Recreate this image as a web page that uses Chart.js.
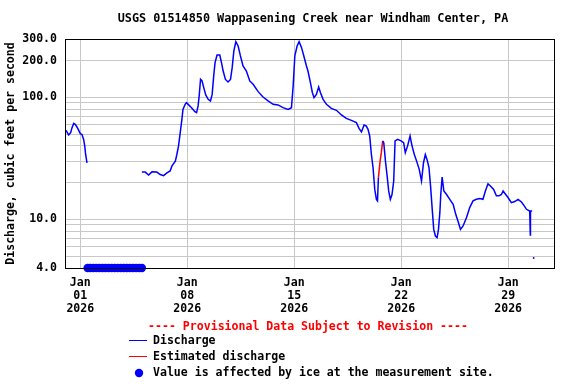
<!DOCTYPE html>
<html lang="en">
<head>
<meta charset="utf-8">
<title>USGS 01514850 Wappasening Creek</title>
<script src="https://cdn.jsdelivr.net/npm/chart.js@4.4.1/dist/chart.umd.min.js"></script>
<style>
  html, body { margin: 0; padding: 0; background: #ffffff; }
  canvas { display: block; }
</style>
</head>
<body>
<canvas id="grafico" width="576" height="384"></canvas>
<script>
// --- Dados (dia de janeiro: 1.0 = 01/jan 00:00) ---
const vazaoDias = [
  0.07, 0.24, 0.37, 0.46, 0.57, 0.67, 0.78, 0.90, 1.00, 1.11, 1.22, 1.29, 1.35, 1.44,
  3.00,
  5.03, 5.25, 5.47, 5.69, 6.01, 6.23, 6.45, 6.67, 6.88, 7.00, 7.22, 7.32, 7.43, 7.54,
  7.65, 7.72, 7.86, 7.95, 8.06, 8.28, 8.50, 8.61, 8.71, 8.78, 8.87, 8.97, 9.08, 9.21,
  9.37, 9.52, 9.63, 9.74, 9.82, 9.95, 10.13, 10.24, 10.35, 10.50, 10.67, 10.83, 10.94,
  11.05, 11.18, 11.33, 11.48, 11.65, 11.87, 12.09, 12.31, 12.64, 12.96, 13.29, 13.62,
  13.94, 14.27, 14.60, 14.82, 14.93, 15.04, 15.19, 15.32, 15.48, 15.62, 15.80, 15.90,
  16.06, 16.19, 16.30, 16.45, 16.60, 16.72, 16.89, 17.11, 17.43, 17.76, 18.09, 18.41,
  18.74, 19.07, 19.24, 19.40, 19.57, 19.72, 19.83, 19.94, 20.05, 20.16, 20.27, 20.38,
  20.45, 20.51,
  20.65,
  20.79, 20.86, 20.97, 21.08, 21.18, 21.29, 21.40, 21.51, 21.60, 21.77, 21.99, 22.16,
  22.27, 22.42, 22.58, 22.71, 22.86, 23.01, 23.18, 23.33, 23.46, 23.58, 23.69, 23.82,
  23.93, 24.04, 24.13, 24.24, 24.35, 24.44, 24.53, 24.59, 24.68, 24.79, 24.97, 25.18,
  25.40, 25.57, 25.75, 25.88, 26.05, 26.27, 26.48, 26.70, 26.92, 27.14, 27.35, 27.51,
  27.68, 27.84, 28.05, 28.23, 28.40, 28.56, 28.67, 28.84, 28.99, 29.21, 29.43, 29.65,
  29.87, 30.02, 30.20, 30.41, 30.45, 30.46, 30.57,
  30.62,
  30.67
];
const vazaoValores = [
  53.6, 49.1, 51.3, 56.4, 61.1, 60, 57.1, 53.6, 50.4, 49.6, 45.2, 40, 34, 29.0,
  null,
  24.4, 24.4, 23.1, 24.5, 24.4, 23.3, 22.8, 24.0, 24.9, 27.4, 30, 34, 40, 51.3,
  65.9, 79.6, 87.5, 90.3, 87.5, 82.2, 76.2, 74.8, 84.9, 102.6, 140.3, 136, 120, 104.5,
  96.2, 93.3, 105.6, 154, 192, 222, 222, 192, 164, 140, 133.4, 140, 174.7,
  239.5, 285, 263, 218, 180.5, 164, 136, 127.6, 111.2, 100.5, 93.3, 87.5,
  86.5, 82.2, 79.6, 82.2, 123.7, 218, 263, 285, 255, 220, 180.5, 164,
  131.8, 109, 99.3, 105.6, 121.4, 109, 96.2, 87.5, 81.1, 78.2, 71.6, 67.2,
  64.7, 62, 55.6, 52, 59.3, 58, 54.6, 48.2, 34, 26.5, 17.6, 14.6,
  14.2, 22,
  null,
  43.9, 42.5, 30, 22.7, 17.1, 14.6, 16, 20.6, 43.9, 45.2, 43.9, 42.5,
  35.2, 40, 48.2, 40, 34, 30, 25.7, 20.6, 29.1, 34, 31, 26.5,
  18.2, 11.7, 8.28, 7.31, 7.1, 8.28, 11.35, 16, 22.2, 17.1, 16, 14.6,
  13.3, 11, 9.4, 8.28, 8.83, 10.33, 12.47, 14.2, 14.6, 14.8, 14.6, 17.1,
  19.6, 18.8, 17.6, 15.6, 15.6, 16, 17.1, 16, 15.1, 13.7, 14, 14.6,
  13.9, 13.1, 12.1, 11.7, 7.45, 11.7, 11.7,
  null,
  4.83
];

// Trecho de vazão estimada (linha vermelha)
const estimadaDias = [20.51, 20.62, 20.70, 20.79];
const estimadaValores = [22, 30, 35.2, 43.9];

// Valores afetados por gelo (desenhados no limite inferior do eixo)
const geloDias = [1.48, 1.65, 1.85, 2.05, 2.25, 2.45, 2.65, 2.85, 3.05, 3.25,
  3.45, 3.65, 3.85, 4.05, 4.25, 4.45, 4.65, 4.85, 5.03];
const geloValores = [4, 4, 4, 4, 4, 4, 4, 4, 4, 4, 4, 4, 4, 4, 4, 4, 4, 4, 4];

// Marcas dos eixos
const xTickDias = [1, 8, 15, 22, 29];
const xTickRotulos = [['Jan', '01', '2026'], ['Jan', '08', '2026'], ['Jan', '15', '2026'],
  ['Jan', '22', '2026'], ['Jan', '29', '2026']];
const yTickValores = [4, 5, 6, 7, 8, 9, 10, 20, 30, 40, 50, 60, 70, 80, 90, 100, 200, 300];
const yRotulos = [4, 10, 100, 200, 300];

const TITULO = 'USGS 01514850 Wappasening Creek near Windham Center, PA';
const AVISO = '---- Provisional Data Subject to Revision ----';
const FONTE = "'DejaVu Sans Mono', 'Liberation Mono', monospace";
const AZUL = '#0000ff';
const VERMELHO = '#ff0000';
const GRADE = '#c8c8c8';

// Monta pares {x, y} para o Chart.js
function pares(dias, valores) {
    return dias.map((d, i) => ({ x: d, y: valores[i] }));
}

// Ponto sem vizinhos (precisa de um marcador para aparecer)
function pontoIsolado(i) {
    return vazaoValores[i] != null && vazaoValores[i - 1] == null && vazaoValores[i + 1] == null;
}

// Moldura preta do gráfico, desenhada por cima dos dados
const moldura = {
    id: 'moldura',
    afterDatasetsDraw(chart) {
        const { ctx, chartArea: a } = chart;
        ctx.save();
        ctx.strokeStyle = '#000000';
        ctx.lineWidth = 1;
        ctx.strokeRect(Math.round(a.left) + 0.5, Math.round(a.top) + 0.5,
            Math.round(a.right) - Math.round(a.left), Math.round(a.bottom) - Math.round(a.top));
        ctx.restore();
    }
};

// Título e legenda no estilo do USGS
const textosUsgs = {
    id: 'textosUsgs',
    afterDraw(chart) {
        const ctx = chart.ctx;
        ctx.save();
        ctx.textBaseline = 'middle';

        // Título (centrado um pouco à direita, como no original)
        ctx.font = `bold 11.8px ${FONTE}`;
        ctx.textAlign = 'center';
        ctx.fillStyle = '#000000';
        ctx.fillText(TITULO, 313, 19);

        ctx.font = `bold 11.55px ${FONTE}`;
        ctx.fillStyle = VERMELHO;
        ctx.fillText(AVISO, 308, 327);

        ctx.textAlign = 'left';
        ctx.fillStyle = '#000000';
        ctx.fillText('Discharge', 153, 341);
        ctx.fillText('Estimated discharge', 153, 357);
        ctx.fillText('Value is affected by ice at the measurement site.', 153, 373);

        ctx.lineWidth = 1;
        ctx.strokeStyle = AZUL;
        ctx.beginPath(); ctx.moveTo(129, 340.5); ctx.lineTo(147, 340.5); ctx.stroke();
        ctx.strokeStyle = VERMELHO;
        ctx.beginPath(); ctx.moveTo(129, 356.5); ctx.lineTo(147, 356.5); ctx.stroke();

        ctx.fillStyle = AZUL;
        ctx.beginPath(); ctx.arc(139, 373, 4.2, 0, Math.PI * 2); ctx.fill();
        ctx.restore();
    }
};

const ctx = document.getElementById('grafico').getContext('2d');

new Chart(ctx, {
    type: 'scatter',
    data: {
        datasets: [
            {
                label: 'Discharge',
                data: pares(vazaoDias, vazaoValores),
                showLine: true,
                spanGaps: false,
                borderColor: AZUL,
                backgroundColor: AZUL,
                borderWidth: 1.5,
                pointRadius: c => pontoIsolado(c.dataIndex) ? 0.9 : 0,
                pointBorderWidth: 0,
                tension: 0
            },
            {
                label: 'Estimated discharge',
                data: pares(estimadaDias, estimadaValores),
                showLine: true,
                borderColor: VERMELHO,
                backgroundColor: VERMELHO,
                borderWidth: 1.5,
                pointRadius: 0,
                tension: 0
            },
            {
                label: 'Ice affected',
                data: pares(geloDias, geloValores),
                showLine: false,
                backgroundColor: AZUL,
                borderColor: AZUL,
                borderWidth: 0,
                pointRadius: 4.2,
                clip: 8
            }
        ]
    },
    options: {
        responsive: false,
        animation: false,
        devicePixelRatio: 1,
        layout: { padding: { left: 0, right: 22, top: 39, bottom: 0 } },
        plugins: {
            legend: { display: false },
            tooltip: { enabled: false },
            title: { display: false }
        },
        scales: {
            x: {
                type: 'linear',
                min: 0,
                max: 32,
                afterBuildTicks: s => { s.ticks = xTickDias.map(v => ({ value: v })); },
                afterFit: s => { s.height = 116; },
                grid: { color: GRADE, drawTicks: false, lineWidth: 1 },
                border: { display: false },
                ticks: {
                    autoSkip: false,
                    maxRotation: 0,
                    padding: 8,
                    color: '#000000',
                    font: { family: FONTE, size: 11.55, weight: 'bold', lineHeight: '13px' },
                    callback: v => {
                        const i = xTickDias.indexOf(v);
                        return i >= 0 ? xTickRotulos[i] : '';
                    }
                }
            },
            y: {
                type: 'logarithmic',
                min: 4,
                max: 300,
                afterBuildTicks: s => { s.ticks = yTickValores.map(v => ({ value: v })); },
                afterFit: s => { s.width = 65; },
                grid: { color: GRADE, drawTicks: false, lineWidth: 1 },
                border: { display: false },
                title: {
                    display: true,
                    text: 'Discharge, cubic feet per second',
                    color: '#000000',
                    font: { family: FONTE, size: 11.55, weight: 'bold', lineHeight: '13px' },
                    padding: { top: 4.5, bottom: 0 }
                },
                ticks: {
                    autoSkip: false,
                    padding: 8,
                    color: '#000000',
                    font: { family: FONTE, size: 11.55, weight: 'bold' },
                    callback: v => yRotulos.includes(v) ? v.toFixed(1) : ''
                }
            }
        }
    },
    plugins: [moldura, textosUsgs]
});
</script>
</body>
</html>
